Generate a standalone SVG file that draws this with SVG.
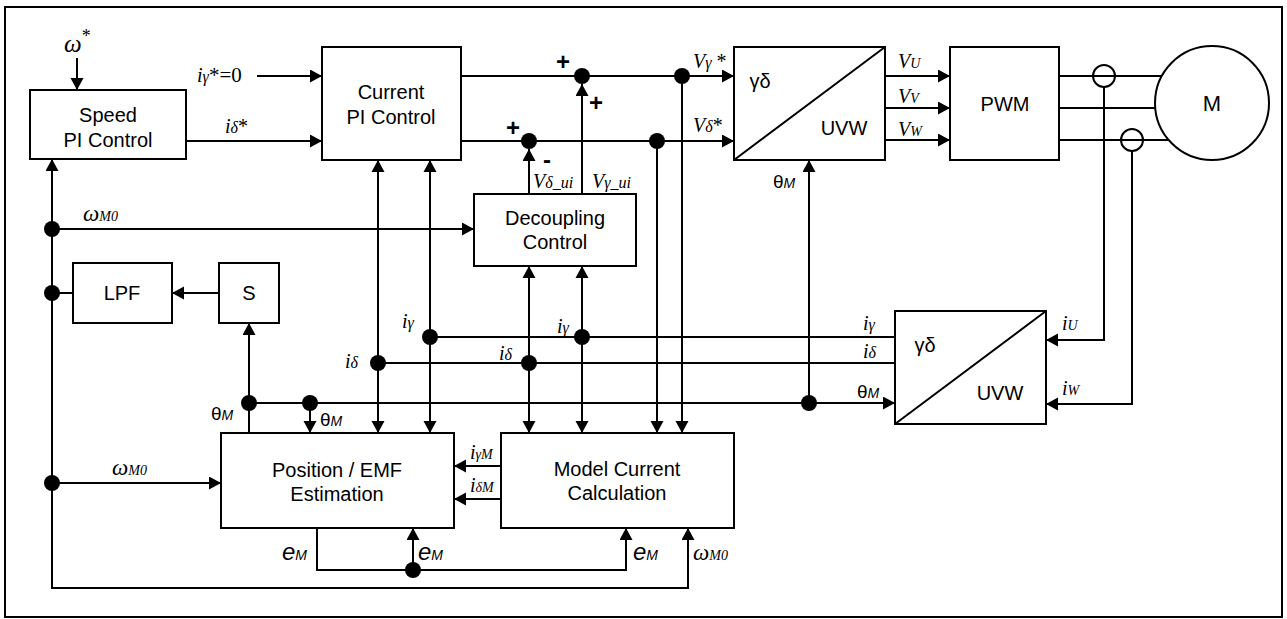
<svg xmlns="http://www.w3.org/2000/svg" width="1287" height="619" viewBox="0 0 1287 619">
<defs>
<marker id="ah" markerUnits="userSpaceOnUse" markerWidth="13" markerHeight="14" refX="12" refY="6.5" orient="auto">
<path d="M0,0 L12,6.5 L0,13 z" fill="#000"/>
</marker>
<marker id="as" markerUnits="userSpaceOnUse" markerWidth="13" markerHeight="14" refX="0" refY="6.5" orient="auto">
<path d="M12,0 L0,6.5 L12,13 z" fill="#000"/>
</marker>
</defs>
<style>
.box{fill:#fff;stroke:#000;stroke-width:2}
.ln{fill:none;stroke:#000;stroke-width:2}
.ar{fill:none;stroke:#000;stroke-width:2;marker-end:url(#ah)}
.ar2{fill:none;stroke:#000;stroke-width:2;marker-end:url(#ah);marker-start:url(#as)}
.dot{fill:#000}
.bt{font-family:"Liberation Sans",Arial,sans-serif;font-size:20px;text-anchor:middle;fill:#000}
.lb{font-family:"Liberation Serif","Times New Roman",serif;font-style:italic;font-size:20px;fill:#000}
.sb{font-size:16px}
.sc{font-size:14px}
.th{font-family:"Liberation Sans",Arial,sans-serif;font-size:19px;fill:#000}
.pm{font-family:"Liberation Sans",Arial,sans-serif;font-size:24px;font-weight:bold;fill:#000;text-anchor:middle}
</style>
<rect x="5" y="7" width="1277" height="610" fill="#fff" stroke="#000" stroke-width="2"/>

<g id="connectors">
<line class="ar" x1="77" y1="58" x2="77" y2="90"/>
<line class="ar" x1="257" y1="76" x2="322" y2="76"/>
<line class="ar" x1="186" y1="141" x2="322" y2="141"/>
<line class="ar" x1="461" y1="76" x2="734" y2="76"/>
<line class="ar" x1="461" y1="141" x2="734" y2="141"/>
<line class="ar" x1="529" y1="194" x2="529" y2="149"/>
<line class="ar" x1="582" y1="194" x2="582" y2="84"/>
<line class="ar" x1="885" y1="76" x2="950" y2="76"/>
<line class="ar" x1="885" y1="108" x2="950" y2="108"/>
<line class="ar" x1="885" y1="140" x2="950" y2="140"/>
<line class="ln" x1="1059" y1="76" x2="1162" y2="76"/>
<line class="ln" x1="1059" y1="108" x2="1155" y2="108"/>
<line class="ln" x1="1059" y1="140" x2="1169" y2="140"/>
<circle class="ln" cx="1104" cy="76" r="11"/>
<circle class="ln" cx="1132" cy="140" r="11"/>
<polyline class="ar" points="1104,87 1104,340 1046,340"/>
<polyline class="ar" points="1132,151 1132,404 1046,404"/>
<line class="ar" x1="809" y1="403" x2="809" y2="160"/>
<line class="ar" x1="249" y1="403" x2="895" y2="403"/>
<line class="ln" x1="430" y1="337" x2="895" y2="337"/>
<line class="ln" x1="378" y1="363" x2="895" y2="363"/>
<line class="ar2" x1="378" y1="160" x2="378" y2="433"/>
<line class="ar2" x1="430" y1="160" x2="430" y2="433"/>
<line class="ar2" x1="529" y1="266" x2="529" y2="433"/>
<line class="ar2" x1="582" y1="266" x2="582" y2="433"/>
<line class="ar" x1="657" y1="141" x2="657" y2="433"/>
<line class="ar" x1="682" y1="76" x2="682" y2="433"/>
<line class="ar" x1="52" y1="229" x2="474" y2="229"/>
<line class="ar" x1="52" y1="589" x2="52" y2="159"/>
<line class="ln" x1="52" y1="293" x2="73" y2="293"/>
<line class="ar" x1="219" y1="293" x2="172" y2="293"/>
<line class="ar" x1="249" y1="433" x2="249" y2="323"/>
<line class="ar" x1="310" y1="403" x2="310" y2="433"/>
<line class="ar" x1="52" y1="483" x2="221" y2="483"/>
<line class="ar" x1="501" y1="466" x2="454" y2="466"/>
<line class="ar" x1="501" y1="499" x2="454" y2="499"/>
<polyline class="ar" points="317,528 317,570 626,570 626,528"/>
<line class="ar" x1="413" y1="570" x2="413" y2="528"/>
<polyline class="ar" points="52,588 688,588 688,528"/>
<circle class="dot" cx="582" cy="76" r="8"/>
<circle class="dot" cx="682" cy="76" r="8"/>
<circle class="dot" cx="529" cy="141" r="8"/>
<circle class="dot" cx="657" cy="141" r="8"/>
<circle class="dot" cx="52" cy="229" r="8"/>
<circle class="dot" cx="52" cy="293" r="8"/>
<circle class="dot" cx="52" cy="483" r="8"/>
<circle class="dot" cx="430" cy="337" r="8"/>
<circle class="dot" cx="378" cy="363" r="8"/>
<circle class="dot" cx="582" cy="337" r="8"/>
<circle class="dot" cx="529" cy="363" r="8"/>
<circle class="dot" cx="249" cy="403" r="8"/>
<circle class="dot" cx="310" cy="403" r="8"/>
<circle class="dot" cx="809" cy="403" r="8"/>
<circle class="dot" cx="413" cy="570" r="8"/>
</g>

<g id="speed-pi">
<rect class="box" x="30" y="90" width="156" height="69"/>
<text class="bt" x="108" y="122">Speed</text>
<text class="bt" x="108" y="147">PI Control</text>
</g>
<g id="current-pi">
<rect class="box" x="322" y="47" width="139" height="113"/>
<text class="bt" x="391" y="99">Current</text>
<text class="bt" x="391" y="124">PI Control</text>
</g>
<g id="decoupling">
<rect class="box" x="474" y="194" width="162" height="72"/>
<text class="bt" x="555" y="225">Decoupling</text>
<text class="bt" x="555" y="249">Control</text>
</g>
<g id="conv-top">
<rect class="box" x="734" y="47" width="151" height="113"/>
<line class="ln" x1="734" y1="160" x2="885" y2="47"/>
<text class="bt" x="760" y="88">γδ</text>
<text class="bt" x="844" y="135">UVW</text>
</g>
<g id="pwm">
<rect class="box" x="950" y="47" width="109" height="113"/>
<text class="bt" x="1005" y="111">PWM</text>
</g>
<g id="motor">
<circle class="box" cx="1212" cy="103" r="57"/>
<text class="bt" x="1212" y="111" style="font-size:22px">M</text>
</g>
<g id="lpf">
<rect class="box" x="73" y="263" width="99" height="60"/>
<text class="bt" x="122" y="300">LPF</text>
</g>
<g id="s-block">
<rect class="box" x="219" y="263" width="60" height="60"/>
<text class="bt" x="249" y="300">S</text>
</g>
<g id="conv-bottom">
<rect class="box" x="895" y="311" width="151" height="113"/>
<line class="ln" x1="895" y1="424" x2="1046" y2="311"/>
<text class="bt" x="925" y="352">γδ</text>
<text class="bt" x="1000" y="400">UVW</text>
</g>
<g id="position-emf">
<rect class="box" x="221" y="433" width="233" height="95"/>
<text class="bt" x="337" y="477">Position / EMF</text>
<text class="bt" x="337" y="501">Estimation</text>
</g>
<g id="model-current">
<rect class="box" x="501" y="433" width="233" height="95"/>
<text class="bt" x="617" y="476">Model Current</text>
<text class="bt" x="617" y="500">Calculation</text>
</g>

<g id="labels">
<text class="lb" x="64" y="52" style="font-size:25px">ω<tspan style="font-style:normal;font-size:18px" dy="-10">*</tspan></text>
<text class="lb" x="197" y="82">i<tspan class="sb">γ</tspan><tspan style="font-style:normal;font-size:21px">*=0</tspan></text>
<text class="lb" x="225" y="133">i<tspan class="sb">δ</tspan><tspan style="font-style:normal">*</tspan></text>
<text class="lb" x="693" y="68">V<tspan class="sb">γ</tspan><tspan style="font-style:normal"> *</tspan></text>
<text class="lb" x="693" y="132">V<tspan class="sb">δ</tspan><tspan style="font-style:normal">*</tspan></text>
<text class="pm" x="563" y="70">+</text>
<text class="pm" x="513" y="136">+</text>
<text class="pm" x="596" y="111">+</text>
<text class="pm" x="547" y="168">-</text>
<text class="lb" x="533" y="188">V<tspan class="sb">δ_ui</tspan></text>
<text class="lb" x="592" y="188">V<tspan class="sb">γ_ui</tspan></text>
<text class="th" x="773" y="188">θ<tspan style="font-style:italic;font-size:14px">M</tspan></text>
<text class="lb" x="898" y="68">V<tspan class="sc">U</tspan></text>
<text class="lb" x="898" y="103">V<tspan class="sc">V</tspan></text>
<text class="lb" x="898" y="136">V<tspan class="sc">W</tspan></text>
<text class="lb" x="83" y="221" style="font-size:23px">ω<tspan class="sc">M0</tspan></text>
<text class="lb" x="402" y="328">i<tspan class="sb">γ</tspan></text>
<text class="lb" x="345" y="368">i<tspan class="sb">δ</tspan></text>
<text class="lb" x="557" y="333">i<tspan class="sb">γ</tspan></text>
<text class="lb" x="499" y="360">i<tspan class="sb">δ</tspan></text>
<text class="lb" x="863" y="330">i<tspan class="sb">γ</tspan></text>
<text class="lb" x="863" y="358">i<tspan class="sb">δ</tspan></text>
<text class="th" x="857" y="398">θ<tspan style="font-style:italic;font-size:14px">M</tspan></text>
<text class="lb" x="1062" y="330">i<tspan class="sc">U</tspan></text>
<text class="lb" x="1062" y="395">i<tspan class="sc">W</tspan></text>
<text class="th" x="211" y="420">θ<tspan style="font-style:italic;font-size:14px">M</tspan></text>
<text class="th" x="320" y="426">θ<tspan style="font-style:italic;font-size:14px">M</tspan></text>
<text class="lb" x="112" y="475" style="font-size:23px">ω<tspan class="sc">M0</tspan></text>
<text class="lb" x="470" y="459">i<tspan class="sc">γM</tspan></text>
<text class="lb" x="470" y="492">i<tspan class="sc">δM</tspan></text>
<text class="th" x="282" y="560" style="font-style:italic;font-size:24px">e<tspan style="font-size:14px">M</tspan></text>
<text class="th" x="418" y="560" style="font-style:italic;font-size:24px">e<tspan style="font-size:14px">M</tspan></text>
<text class="th" x="633" y="560" style="font-style:italic;font-size:24px">e<tspan style="font-size:14px">M</tspan></text>
<text class="lb" x="693" y="560" style="font-size:23px">ω<tspan class="sc">M0</tspan></text>
</g>
</svg>
